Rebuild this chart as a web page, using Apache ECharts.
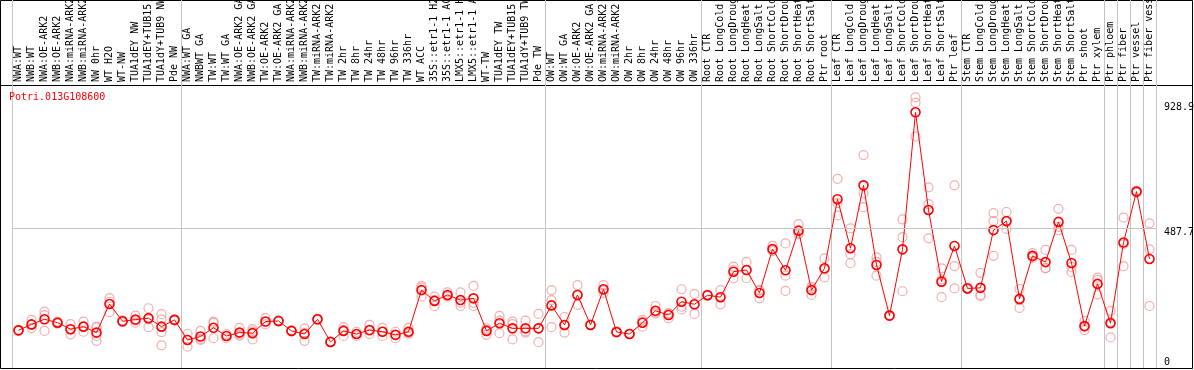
<!DOCTYPE html>
<html>
<head>
<meta charset="utf-8">
<script src="https://cdn.jsdelivr.net/npm/echarts@6/dist/echarts.min.js"></script>
<style>
  html, body { margin: 0; padding: 0; background: #fff; }
  #chart { width: 1194px; height: 370px; }
</style>
</head>
<body>
<div id="chart"></div>
<script>
// 样本名称
const categories = [
  'NWA:WT', 'NWB:WT', 'NWA:OE-ARK2', 'NWB:OE-ARK2', 'NWA:miRNA-ARK2', 'NWB:miRNA-ARK2', 'NW 0hr', 'WT H2O', 'WT-NW',
  'TUA1dEY NW', 'TUA1dEY+TUB15 NW', 'TUA1dY+TUB9 NW', 'Pde NW',
  'NWA:WT GA', 'NWBWT GA', 'TW:WT', 'TW:WT GA', 'NWA:OE-ARK2 GA', 'NWB:OE-ARK2 GA', 'TW:OE-ARK2', 'TW:OE-ARK2 GA',
  'NWA:miRNA-ARK2 GA', 'NWB:miRNA-ARK2 GA', 'TW:miRNA-ARK2', 'TW:miRNA-ARK2 GA', 'TW 2hr', 'TW 8hr', 'TW 24hr',
  'TW 48hr', 'TW 96hr', 'TW 336hr', 'WT ACC', '35S::etr1-1 H2O', '35S::etr1-1 ACC', 'LMX5::etr1-1 H2O', 'LMX5::etr1-1 ACC',
  'WT-TW', 'TUA1dEY TW', 'TUA1dEY+TUB15 TW', 'TUA1dY+TUB9 TW', 'Pde TW',
  'OW:WT', 'OW:WT GA', 'OW:OE-ARK2', 'OW:OE-ARK2 GA', 'OW:miRNA-ARK2', 'OW:miRNA-ARK2 GA', 'OW 2hr', 'OW 8hr',
  'OW 24hr', 'OW 48hr', 'OW 96hr', 'OW 336hr',
  'Root CTR', 'Root LongCold', 'Root LongDrought', 'Root LongHeat', 'Root LongSalt', 'Root ShortCold',
  'Root ShortDrought', 'Root ShortHeat', 'Root ShortSalt', 'Ptr root',
  'Leaf CTR', 'Leaf LongCold', 'Leaf LongDrought', 'Leaf LongHeat', 'Leaf LongSalt', 'Leaf ShortCold',
  'Leaf ShortDrought', 'Leaf ShortHeat', 'Leaf ShortSalt', 'Ptr leaf',
  'Stem CTR', 'Stem LongCold', 'Stem LongDrought', 'Stem LongHeat', 'Stem LongSalt', 'Stem ShortCold',
  'Stem ShortDrought', 'Stem ShortHeat', 'Stem ShortSalt', 'Ptr shoot', 'Ptr xylem',
  'Ptr phloem', 'Ptr fiber', 'Ptr vessel', 'Ptr fiber vessel'
];

// 均值
const meanValues = [
  126, 147, 165, 153, 130, 139, 118, 219, 158, 164, 169, 139, 163,
  92, 104, 135, 106, 118, 116, 157, 159, 124, 113, 165, 85, 124, 113, 127,
  121, 110, 121, 268, 230, 251, 233, 239, 124, 151, 133, 133, 133,
  214, 145, 251, 145, 271, 120, 113, 153, 195, 180, 227, 218,
  250, 243, 333, 339, 258, 413, 338, 478, 268, 345,
  589, 416, 638, 357, 178, 412, 896, 551, 298, 424,
  274, 276, 480, 512, 237, 389, 367, 509, 364, 141, 290,
  151, 436, 616, 378
];

// 重复样本
const replicateValues = [
  [127, 124, 127], [163, 145, 134], [192, 180, 124], [152, 150, 157], [148, 112, 128], [157, 121, 139],
  [139, 106, 89, 136], [240, 190, 227], [158, 155, 161], [178, 153, 160], [204, 137, 165], [183, 165, 120, 73],
  [162, 160, 165],
  [113, 68, 92], [124, 92, 95], [157, 98, 152], [113, 98, 106], [135, 107, 111], [130, 94, 122], [169, 147, 157],
  [159, 157, 161], [124, 122, 125], [133, 89, 117], [165, 163, 167], [85, 87, 83], [137, 106, 127], [121, 106, 113],
  [145, 113, 124], [135, 106, 122], [98, 121, 110], [135, 113, 117], [283, 245, 277], [245, 212, 233], [260, 245, 247],
  [260, 212, 224], [283, 212, 223], [133, 110, 128], [177, 116, 160], [157, 94, 148], [160, 118, 122], [184, 84, 133],
  [268, 233, 137], [173, 118, 143], [286, 216, 251], [145, 143, 147], [286, 268, 258], [120, 122, 118], [113, 112, 114],
  [139, 157, 163], [212, 186, 189], [169, 187, 185], [271, 200, 210], [254, 184, 217],
  [250, 248, 252], [268, 218, 242], [351, 310, 339], [368, 310, 339], [268, 239, 266], [424, 410, 406],
  [433, 319, 265], [501, 469, 465], [280, 251, 274], [380, 313, 341],
  [661, 575, 532], [486, 395, 363], [745, 610, 561], [384, 319, 367], [178, 176, 179], [518, 455, 264],
  [949, 930, 810], [631, 572, 451], [345, 243, 306], [638, 353, 274],
  [274, 272, 277], [329, 247, 251], [540, 512, 389], [544, 509, 484], [272, 205, 233], [399, 382, 385],
  [410, 346, 346], [555, 480, 491], [410, 332, 350], [159, 127, 138], [312, 304, 253],
  [195, 101, 155], [524, 353, 430], [616, 612, 619], [504, 412, 212]
];

const yTickValues = [0, 487.7, 928.9];
const gridValue = 487.7;
// 每组第一个样本的序号
const groupStarts = [0, 13, 41, 53, 63, 73, 84, 85, 86, 87];
const geneName = 'Potri.013G108600';

const mono = 'DejaVu Sans Mono';
const sepColor = '#c4c4c4';

let scatterData = [];
replicateValues.forEach((reps, i) => {
  reps.forEach(v => scatterData.push([i, v]));
});

const groupSplit = {
  show: true,
  interval: idx => groupStarts.indexOf(idx) >= 0,
  lineStyle: { color: sepColor, width: 1 }
};

const myChart = echarts.init(document.getElementById('chart'));
const option = {
  animation: false,
  title: {
    text: geneName,
    left: 9,
    top: 92,
    padding: 0,
    textStyle: { color: '#ff0000', fontFamily: mono, fontSize: 10, fontWeight: 'normal' }
  },
  grid: [
    { left: 12, right: 38, top: 85, bottom: 2, outerBoundsMode: 'none', containLabel: false },
    { left: 12, right: 38, top: 0, height: 85, outerBoundsMode: 'none', containLabel: false }
  ],
  xAxis: [{
    type: 'category',
    gridIndex: 0,
    position: 'top',
    data: categories,
    boundaryGap: true,
    axisLine: { show: false },
    axisTick: { show: false },
    axisLabel: {
      interval: 0,
      rotate: 90,
      margin: 3,
      color: '#000',
      fontFamily: mono,
      fontSize: 10
    },
    splitLine: groupSplit
  }, {
    type: 'category',
    gridIndex: 1,
    data: categories,
    boundaryGap: true,
    axisLine: { show: false },
    axisTick: { show: false },
    axisLabel: { show: false },
    splitLine: groupSplit
  }],
  yAxis: [{
    type: 'value',
    gridIndex: 0,
    position: 'right',
    min: -7.06,
    max: 992.5,
    axisLine: { show: false },
    axisTick: { show: false },
    splitLine: { show: false },
    axisLabel: {
      customValues: yTickValues,
      margin: 8,
      color: '#000',
      fontFamily: mono,
      fontSize: 10,
      formatter: v => (v === 0 ? '{up|' + v + '}' : '{down|' + v + '}'),
      rich: {
        up: { fontFamily: mono, fontSize: 10, color: '#000', padding: [0, 0, 8, 0] },
        down: { fontFamily: mono, fontSize: 10, color: '#000', padding: [8, 0, 0, 0] }
      }
    }
  }, {
    type: 'value',
    gridIndex: 1,
    show: false
  }],
  series: [{
    name: 'replicate',
    type: 'scatter',
    xAxisIndex: 0,
    yAxisIndex: 0,
    z: 2,
    symbol: 'circle',
    symbolSize: 9,
    data: scatterData,
    itemStyle: { color: 'rgba(0,0,0,0)', borderColor: '#ef9a9a', borderWidth: 1.2 },
    markLine: {
      silent: true,
      symbol: 'none',
      label: { show: false },
      lineStyle: { color: sepColor, type: 'solid', width: 1 },
      data: [{ yAxis: gridValue }]
    }
  }, {
    name: 'mean',
    type: 'line',
    xAxisIndex: 0,
    yAxisIndex: 0,
    z: 3,
    data: meanValues,
    showAllSymbol: true,
    symbol: 'circle',
    symbolSize: 9,
    lineStyle: { color: '#ff0000', width: 1 },
    itemStyle: { color: 'rgba(0,0,0,0)', borderColor: '#ff0000', borderWidth: 1.6 }
  }],
  graphic: [{
    type: 'rect',
    silent: true,
    shape: { x: 0.5, y: 0.5, width: 1192, height: 368 },
    style: { fill: 'none', stroke: '#000', lineWidth: 1 }
  }, {
    type: 'line',
    silent: true,
    shape: { x1: 0, y1: 85.5, x2: 1193, y2: 85.5 },
    style: { stroke: '#000', lineWidth: 1 }
  }]
};

myChart.setOption(option);
</script>
</body>
</html>
